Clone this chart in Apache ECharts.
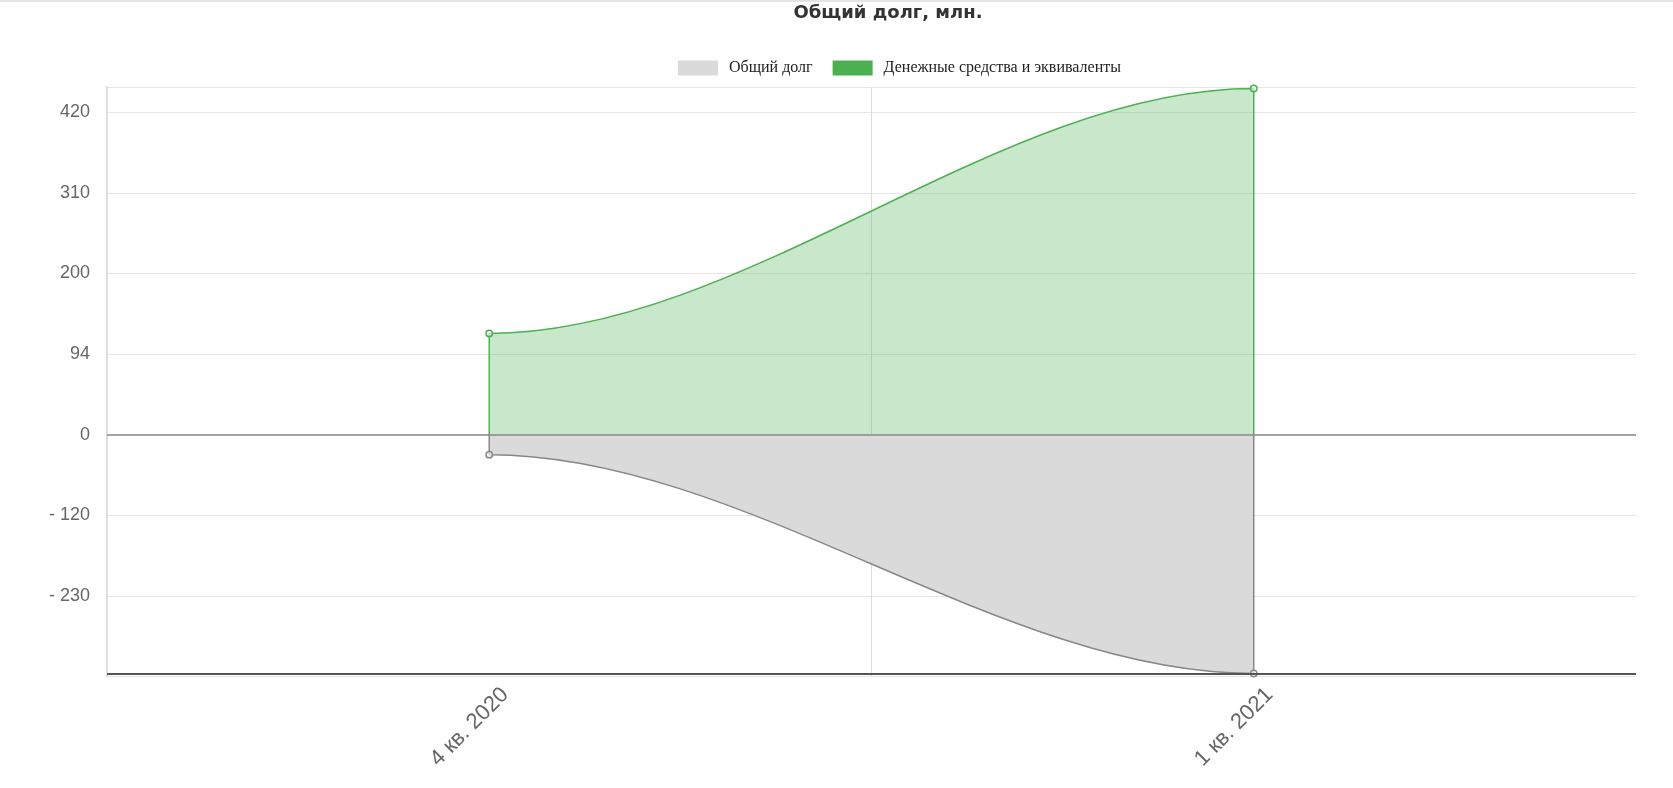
<!DOCTYPE html>
<html>
<head>
<meta charset="utf-8">
<script src="https://cdn.jsdelivr.net/npm/echarts@6/dist/echarts.min.js"></script>
<style>
html,body{margin:0;padding:0;background:#fff;}
#chart{width:1673px;height:788px;}
</style>
</head>
<body>
<div id="chart"></div>
<script>
// ---- data ----
const categories = ['4 кв. 2020', '1 кв. 2021'];
const seriesNames = ['Общий долг', 'Денежные средства и эквиваленты'];
const debtValues = [-26, -311];
const cashValues = [132, 451];
const yTickStep = 105;
const yTickLabels = ['- 230', '- 120', '0', '94', '200', '310', '420']; // ticks from -210 up to 420
const yMin = -315;
const yMax = 453;

const chart = echarts.init(document.getElementById('chart'));

function makeRender(values, lineColor, fillColor) {
  return function (params, api) {
    const i = params.dataIndex;
    const p = api.coord([i, values[i]]);
    const children = [];
    if (i > 0) {
      const q = api.coord([i - 1, values[i - 1]]);
      const q0 = api.coord([i - 1, 0]);
      const p0 = api.coord([i, 0]);
      const dx = (p[0] - q[0]) / 3;
      const curve = 'C ' + (q[0] + dx) + ' ' + q[1] + ' ' + (p[0] - dx) + ' ' + p[1] + ' ' + p[0] + ' ' + p[1];
      const body = 'M ' + q0[0] + ' ' + q0[1] + ' L ' + q[0] + ' ' + q[1] + ' ' + curve + ' L ' + p0[0] + ' ' + p0[1];
      children.push({ type: 'path', shape: { pathData: body + ' Z' }, style: { fill: fillColor }, z2: 0 });
      children.push({ type: 'path', shape: { pathData: body }, style: { fill: 'none', stroke: lineColor, lineWidth: 1.5 }, z2: 1 });
    }
    children.push({ type: 'circle', shape: { cx: p[0], cy: p[1], r: 3.2 }, style: { fill: 'rgba(255,255,255,0.6)', stroke: lineColor, lineWidth: 1.5 }, z2: 3 });
    return { type: 'group', children: children };
  };
}

function yLabel(v) {
  if (Math.abs(v % yTickStep) > 1e-6) return '';
  const idx = Math.round(v / yTickStep) + 2;
  return yTickLabels[idx] !== undefined ? yTickLabels[idx] : '';
}

const option = {
  animation: false,
  backgroundColor: '#fff',
  title: {
    text: 'Общий долг, млн.',
    left: 888,
    top: 4,
    padding: 0,
    textAlign: 'center',
    textStyle: { fontFamily: 'DejaVu Sans', fontWeight: 'bold', fontSize: 18, color: '#333' }
  },
  graphic: [{
    type: 'line', shape: { x1: 0, y1: 1, x2: 1673, y2: 1 },
    style: { stroke: '#e4e4e4', lineWidth: 2 }
  }],
  legend: {
    left: 678,
    top: 60,
    padding: 0,
    itemWidth: 40,
    itemHeight: 15,
    itemGap: 20,
    icon: 'rect',
    textStyle: { fontFamily: 'Liberation Serif', fontSize: 16, color: '#222', padding: [0, 0, 0, 6] },
    data: [
      { name: seriesNames[0], itemStyle: { color: '#dadada' } },
      { name: seriesNames[1], itemStyle: { color: '#4caf50' } }
    ]
  },
  grid: { left: 107, right: 37, top: 87, bottom: 788 - 676.5, containLabel: false },
  xAxis: {
    type: 'category',
    data: categories,
    boundaryGap: true,
    axisLine: { show: false },
    axisTick: { show: false },
    splitLine: { show: true, showMinLine: false, showMaxLine: false, lineStyle: { color: '#dddddd', width: 1 } },
    axisLabel: {
      rotate: 45,
      margin: -1,
      fontFamily: 'Liberation Sans',
      fontSize: 22,
      color: '#666',
      verticalAlign: 'top',
      lineHeight: 45
    }
  },
  yAxis: {
    type: 'value',
    min: yMin,
    max: yMax,
    interval: yTickStep,
    axisLine: { show: true, lineStyle: { color: '#dedede', width: 2 } },
    axisTick: { show: false },
    splitLine: { show: true, lineStyle: { color: '#e6e6e6', width: 1 } },
    axisLabel: {
      margin: 17,
      fontFamily: 'Liberation Sans',
      fontSize: 18,
      color: '#666',
      formatter: yLabel
    }
  },
  series: [
    {
      name: seriesNames[0],
      type: 'custom',
      itemStyle: { color: '#dadada' },
      renderItem: makeRender(debtValues, '#888888', '#dadada'),
      encode: { x: 0, y: 1 },
      data: debtValues.map((v, i) => [i, v]),
      z: 2
    },
    {
      name: seriesNames[1],
      type: 'custom',
      itemStyle: { color: '#4caf50' },
      renderItem: makeRender(cashValues, '#4caf50', 'rgba(76,175,80,0.3)'),
      encode: { x: 0, y: 1 },
      data: cashValues.map((v, i) => [i, v]),
      z: 2
    },
    {
      type: 'line',
      data: [],
      silent: true,
      z: 4,
      markLine: {
        silent: true,
        symbol: ['none', 'none'],
        label: { show: false },
        data: [
          { yAxis: 0, lineStyle: { color: '#8a8a8a', width: 1.5, type: 'solid' } },
          { yAxis: Math.min.apply(null, debtValues), lineStyle: { color: '#555', width: 2, type: 'solid' } }
        ]
      }
    }
  ]
};
chart.setOption(option);
</script>
</body>
</html>
